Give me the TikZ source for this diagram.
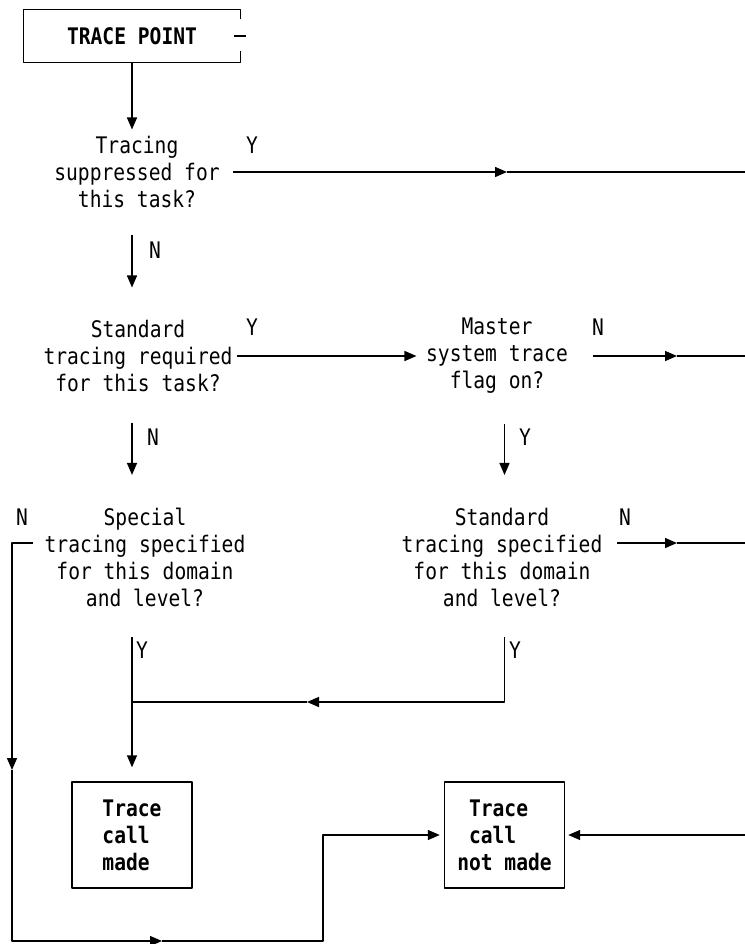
\documentclass[tikz,border=0pt]{standalone}
\usepackage{fontspec}
\setmonofont[FakeStretch=0.86]{DejaVu Sans Mono}
\usetikzlibrary{arrows.meta,calc}

\begin{document}
\begin{tikzpicture}[x=0.5pt, y=-0.5pt, line width=0.7pt, line join=round, >={Triangle[length=6pt,width=5pt]},
  every node/.style={font=\fontsize{11.4}{13.5}\selectfont\ttfamily, inner sep=0pt},
  ask/.style={align=center},
  endbox/.style={draw, minimum width=60pt, minimum height=53pt, align=left, font=\fontsize{11.4}{13.5}\selectfont\ttfamily\bfseries}]
\useasboundingbox (0,0) rectangle (745,944);
\node (tp) at (132,36) [minimum width=108pt, minimum height=26pt, font=\fontsize{11.4}{13.5}\selectfont\ttfamily\bfseries] {TRACE POINT};
\draw ($(tp.north east)+(0,10)$) -- (tp.north east) -- (tp.north west) -- (tp.south west) -- (tp.south east) -- ($(tp.south east)+(0,-12)$);
\draw ($(tp.east)+(-7,0)$) -- ($(tp.east)+(5,0)$);
\node (d1) at (137,172) [ask] {Tracing\\suppressed for\\this task?};
\node (d2) at (138,356) [ask] {Standard\\tracing required\\for this task?};
\node (d3) at (497,356) [ask] {Master\\system trace\\flag on?};
\node (d4) at (145,557) [ask] {Special\\tracing specified\\for this domain\\and level?};
\node (d5) at (502,557) [ask] {Standard\\tracing specified\\for this domain\\and level?};
\node (cm) at (132,835) [endbox] {Trace\\call\\made};
\node (nm) at (504.5,835) [endbox] {~Trace\\~call\\not made};
\node (ly1) at (252,145) {Y};
\node (ln1) at (155,250) {N};
\node (ly2) at (252,327) {Y};
\node (ln3) at (598,327) {N};
\node (ln2) at (153,437) {N};
\node (ly3) at (525,437) {Y};
\node (ln4) at (22,517) {N};
\node (ln5) at (625,517) {N};
\node (ly4) at (142,650) {Y};
\node (ly5) at (515,650) {Y};
\coordinate (rim) at (745,0);
\coordinate (m1) at (507,0);
\coordinate (m3) at (677,0);
\coordinate (m5) at (307,702);
\coordinate (m6) at (12,770);
\coordinate (m7) at (162,941);
\coordinate (kink) at (323,835);
\coordinate (r5) at ([yshift=7pt]d5.east);
\coordinate (l4) at ([yshift=7pt]d4.west);
\draw[->, shorten >=3pt] (tp.south) -- (d1.north -| tp.south);
\draw[->, shorten <=13pt, shorten >=16pt] (d1.south -| tp.south) -- (d2.north -| tp.south);
\draw[->, shorten <=15pt, shorten >=16pt] (d2.south -| tp.south) -- (d4.north -| tp.south);
\draw[->, shorten <=15pt, shorten >=16pt] (d3.south -| nm.north) -- (d5.north -| nm.north);
\draw[->, shorten <=15pt, shorten >=7pt] (d4.south -| cm.north) -- (cm.north);
\draw[->, shorten <=15pt] (d5.south -| nm.north) |- (m5);
\draw (m5) -- (m5 -| cm.north);
\draw[->, shorten <=6.5pt] (d1.east) -- (d1.east -| m1);
\draw (d1.east -| m1) -- (d1.east -| rim);
\draw[->, shorten <=2pt, shorten >=4.5pt] (d2.east) -- (d3.west);
\draw[->, shorten <=12pt] (d3.east) -- (d3.east -| m3);
\draw (d3.east -| m3) -- (d3.east -| rim);
\draw[->, shorten <=7pt] (r5) -- (r5 -| m3);
\draw (r5 -| m3) -- (r5 -| rim);
\draw[->, shorten <=5.5pt] (l4) -| (m6);
\draw[->] (m6) |- (m7);
\draw[->, shorten >=2pt] (m7) -| (kink) -- (nm.west);
\draw[->, shorten >=1.5pt] (nm.east -| rim) -- (nm.east);
\end{tikzpicture}
\end{document}
